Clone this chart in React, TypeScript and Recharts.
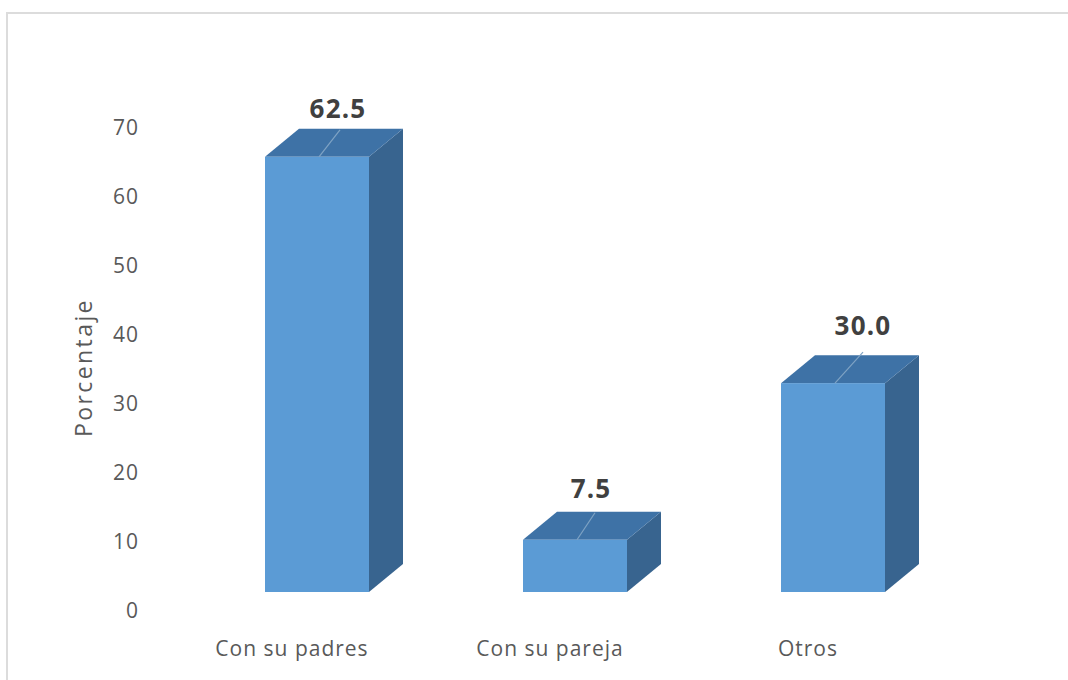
import { BarChart, Bar, XAxis, YAxis, Label, LabelList } from 'recharts';

const categories = ['Con su padres', 'Con su pareja', 'Otros'];
const porcentajes = [62.5, 7.5, 30.0];
const yTicks = [0, 10, 20, 30, 40, 50, 60, 70];

// fake 3D: front face sits above the axis zero, like the Excel chart
const LIFT = 19;
const DEPTH_X = 34;
const DEPTH_Y = 28;
const FRONT_STRETCH = 1.009;
const LABEL_DX = [21, 16, 30];
const LABEL_DY = [53, 52, 60];
const LEADER_END = [[21, -27], [18, -27], [28, -31]];

const data = categories.map((name, i) => ({ name, value: porcentajes[i] }));

function Bar3D(props: any) {
  const { x, y, width, height, index } = props;
  const bottom = y + height - LIFT;
  const top = bottom - height * FRONT_STRETCH;
  const right = x + width;
  const cx = x + width / 2;
  const [lx, ly] = LEADER_END[index];
  return (
    <g>
      <polygon
        points={`${right},${top} ${right + DEPTH_X},${top - DEPTH_Y} ${right + DEPTH_X},${bottom - DEPTH_Y} ${right},${bottom}`}
        fill="#38648f"
      />
      <polygon
        points={`${x},${top} ${x + DEPTH_X},${top - DEPTH_Y} ${right + DEPTH_X},${top - DEPTH_Y} ${right},${top}`}
        fill="#3e72a6"
      />
      <rect x={x} y={top} width={width} height={bottom - top} fill="#5b9bd5" />
      <line x1={cx + 2} y1={top} x2={cx + lx + 2} y2={top + ly} stroke="#7fa3c4" strokeWidth={1.2} />
    </g>
  );
}

function ValueLabel(props: any) {
  const { x, y, width, index, value } = props;
  return (
    <text
      x={x + width / 2 + LABEL_DX[index]}
      y={y - LIFT - LABEL_DY[index]}
      textAnchor="middle"
      dominantBaseline="central"
      fontFamily="'Open Sans', sans-serif"
      fontWeight={700}
      fontSize={26}
      letterSpacing={1.2}
      fill="#404040"
    >
      {Number(value).toFixed(1)}
    </text>
  );
}

export default function App() {
  return (
    <div style={{ position: 'absolute', left: 0, top: 0, width: 1068, height: 680, background: '#fff', overflow: 'hidden' }}>
      <div
        style={{
          position: 'absolute',
          left: 6,
          top: 12,
          width: 1062,
          height: 668,
          borderLeft: '2px solid #dcdcdc',
          borderTop: '2px solid #dcdcdc',
        }}
      />
      <div style={{ position: 'absolute', left: 0, top: 0 }}>
        <BarChart
          width={1068}
          height={680}
          data={data}
          margin={{ top: 128, right: 106, left: 0, bottom: 0 }}
          style={{ fontFamily: "'Open Sans', sans-serif" }}
        >
          <XAxis
            dataKey="name"
            axisLine={false}
            tickLine={false}
            interval={0}
            height={69}
            tickMargin={24}
            dx={-25}
            tick={{ fill: '#595959', fontSize: 21, letterSpacing: 1 }}
          />
          <YAxis
            width={188}
            domain={[0, 70]}
            ticks={yTicks}
            axisLine={false}
            tickLine={false}
            tickMargin={43}
            tick={{ fill: '#595959', fontSize: 21, letterSpacing: 1 }}
          >
            <Label
              value="Porcentaje"
              angle={-90}
              position="center"
              dx={-10}
              dy={-2}
              style={{ fill: '#595959', fontSize: 23, letterSpacing: 2.4, textAnchor: 'middle' }}
            />
          </YAxis>
          <Bar dataKey="value" barSize={104} shape={<Bar3D />} isAnimationActive={false}>
            <LabelList dataKey="value" content={<ValueLabel />} />
          </Bar>
        </BarChart>
      </div>
    </div>
  );
}
